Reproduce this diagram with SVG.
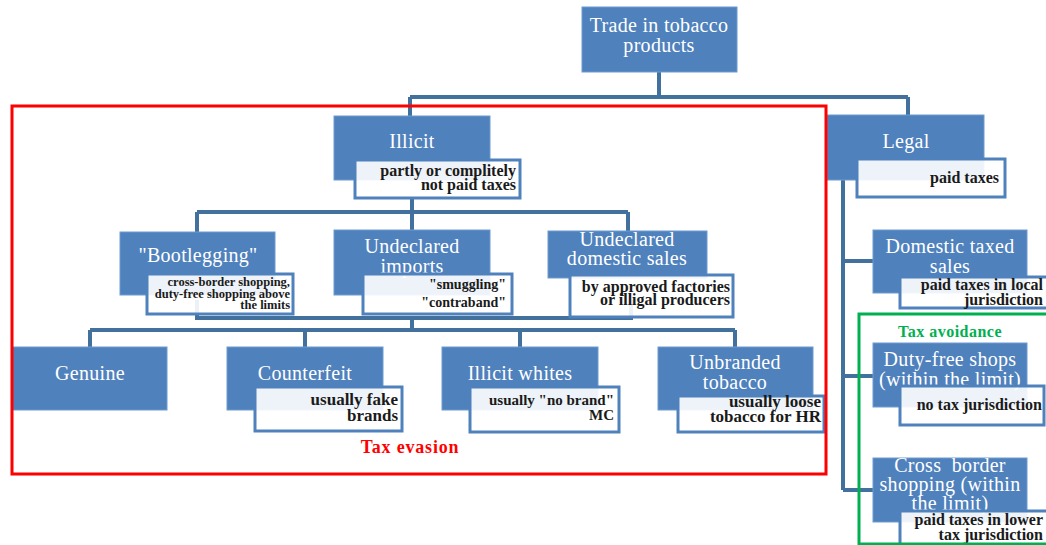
<svg xmlns="http://www.w3.org/2000/svg" width="1046" height="545" viewBox="0 0 1046 545">
<style>
.box{fill:#4f81bd;stroke:#6f9bd1;stroke-width:1}
.sub{fill:#ffffff;fill-opacity:0.9;stroke:#4f81bd;stroke-width:3}
.bt{font-family:"Liberation Serif",serif;font-size:20px;fill:#ffffff;text-anchor:middle;letter-spacing:0.3px}
.st{font-family:"Liberation Serif",serif;font-size:16px;font-weight:bold;fill:#1a1a1a;text-anchor:end}
.con{fill:none;stroke:#41719c;stroke-width:4}
</style>
<rect width="1046" height="545" fill="#ffffff"/>
<g id="connectors">
<path class="con" d="M659 72V97M410 97H908M410 97V116M908 97V115"/>
<path class="con" d="M412 198V212M197 212H628M197 212V232M412 212V230M628 212V232"/>
<path class="con" d="M197 300V318H631V300M412 318V330M90 330H735M90 330V347M305 330V347M520 330V347M735 330V347"/>
<path class="con" d="M843 180V490M843 261H873M843 376H873M843 490H873"/>
</g>
<g id="n-trade"><rect class="box" x="582" y="7" width="155" height="65"/><text class="bt" x="659" y="32">Trade in tobacco</text><text class="bt" x="659" y="52">products</text></g>
<g id="n-illicit"><rect class="box" x="334" y="116" width="156" height="64"/><text class="bt" x="412" y="148">Illicit</text><rect class="sub" x="355" y="160" width="165" height="38"/><text class="st" x="516" y="176">partly or complitely</text><text class="st" x="516" y="190">not paid taxes</text></g>
<g id="n-legal"><rect class="box" x="827" y="115" width="157" height="65"/><text class="bt" x="906" y="148">Legal</text><rect class="sub" x="857" y="159" width="148" height="38"/><text class="st" x="999" y="183">paid taxes</text></g>
<g id="n-bootlegging"><rect class="box" x="120" y="232" width="155" height="63"/><text class="bt" x="198" y="262">"Bootlegging"</text><rect class="sub" x="147" y="274" width="146" height="40"/><text class="st" x="290" y="286" style="font-size:12.5px">cross-border shopping,</text><text class="st" x="290" y="298" style="font-size:12.5px">duty-free shopping above</text><text class="st" x="290" y="309" style="font-size:12.5px">the limits</text></g>
<g id="n-imports"><rect class="box" x="334" y="230" width="156" height="65"/><text class="bt" x="412" y="253">Undeclared</text><text class="bt" x="412" y="273">imports</text><rect class="sub" x="363" y="274" width="149" height="40"/><text class="st" x="506" y="289" style="font-size:14px">"smuggling"</text><text class="st" x="506" y="307" style="font-size:14px">"contraband"</text></g>
<g id="n-domestic-sales"><rect class="box" x="548" y="231" width="159" height="47"/><text class="bt" x="627" y="246">Undeclared</text><text class="bt" x="627" y="265">domestic sales</text><rect class="sub" x="570" y="275" width="163" height="42"/><text class="st" x="730" y="292">by approved factories</text><text class="st" x="730" y="305">or illigal producers</text></g>
<g id="n-domestic-taxed"><rect class="box" x="873" y="230" width="154" height="63"/><text class="bt" x="950" y="253">Domestic taxed</text><text class="bt" x="950" y="273">sales</text><rect class="sub" x="900" y="277" width="160" height="31"/><text class="st" x="1043" y="290">paid taxes in local</text><text class="st" x="1043" y="305">jurisdiction</text></g>
<g id="n-duty-free"><rect class="box" x="873" y="343" width="154" height="64"/><text class="bt" x="950" y="366">Duty-free shops</text><text class="bt" x="950" y="386">(within the limit)</text><rect class="sub" x="900" y="386" width="144" height="39"/><text class="st" x="1042" y="410">no tax jurisdiction</text></g>
<g id="n-cross-border"><rect class="box" x="873" y="458" width="154" height="64"/><text class="bt" x="950" y="472" xml:space="preserve">Cross  border</text><text class="bt" x="950" y="491">shopping (within</text><text class="bt" x="950" y="510">the limit)</text><rect class="sub" x="900" y="511" width="160" height="40"/><text class="st" x="1043" y="525">paid taxes in lower</text><text class="st" x="1043" y="540">tax jurisdiction</text></g>
<g id="n-genuine"><rect class="box" x="12" y="347" width="155" height="63"/><text class="bt" x="90" y="380">Genuine</text></g>
<g id="n-counterfeit"><rect class="box" x="227" y="347" width="156" height="63"/><text class="bt" x="305" y="380">Counterfeit</text><rect class="sub" x="255" y="387" width="147" height="44"/><text class="st" x="398" y="405" style="font-size:17px">usually fake</text><text class="st" x="398" y="421" style="font-size:17px">brands</text></g>
<g id="n-illicit-whites"><rect class="box" x="442" y="347" width="156" height="63"/><text class="bt" x="520" y="380">Illicit whites</text><rect class="sub" x="470" y="387" width="149" height="45"/><text class="st" x="614" y="405" style="font-size:15px">usually "no brand"</text><text class="st" x="614" y="420" style="font-size:15px">MC</text></g>
<g id="n-unbranded"><rect class="box" x="658" y="347" width="155" height="63"/><text class="bt" x="735" y="369">Unbranded</text><text class="bt" x="735" y="389">tobacco</text><rect class="sub" x="678" y="396" width="146" height="36"/><text class="st" x="821" y="407" style="font-size:17px">usually loose</text><text class="st" x="821" y="422" style="font-size:17px">tobacco for HR</text></g>
<g id="tax-evasion"><rect x="12" y="106" width="814" height="368" fill="none" stroke="#ff0000" stroke-width="3"/><text x="410" y="453" font-family="Liberation Serif, serif" font-size="18" font-weight="bold" fill="#ff0000" text-anchor="middle" letter-spacing="0.8">Tax evasion</text></g>
<g id="tax-avoidance"><rect x="859" y="314" width="195" height="230" fill="none" stroke="#00b050" stroke-width="3"/><text x="950" y="337" font-family="Liberation Serif, serif" font-size="16" font-weight="bold" fill="#00b050" text-anchor="middle" letter-spacing="0.5">Tax avoidance</text></g>
</svg>
